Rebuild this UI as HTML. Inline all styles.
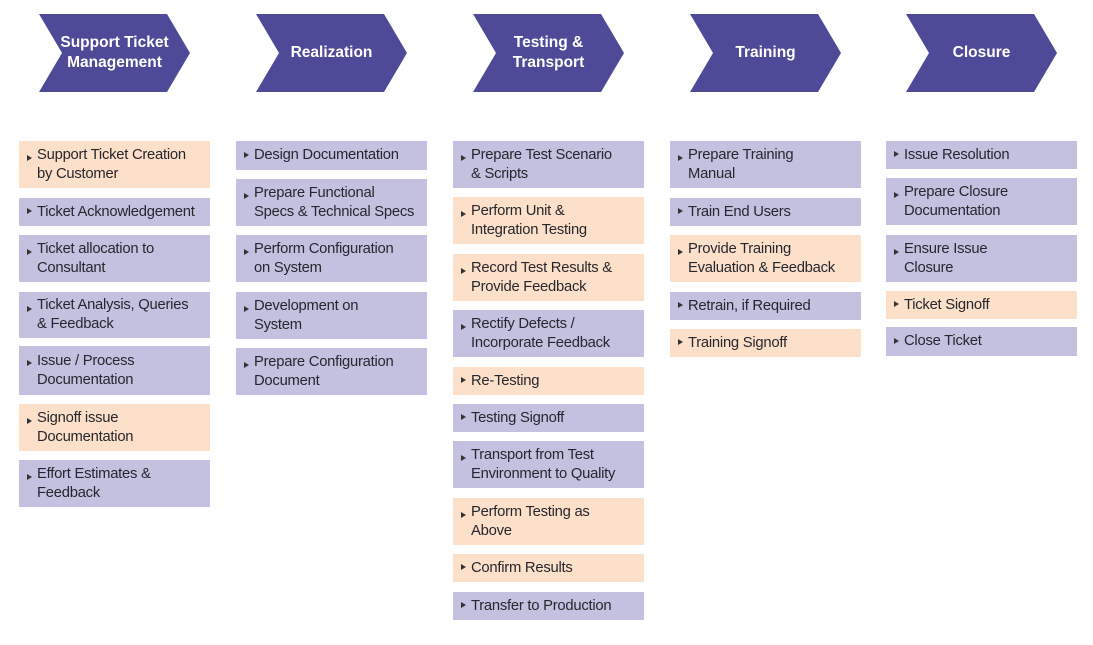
<!DOCTYPE html>
<html><head><meta charset="utf-8"><style>
body{margin:0;width:1093px;height:645px;background:#fff;position:relative;overflow:hidden;font-family:"Liberation Sans",sans-serif}
.b{position:absolute;width:191px;box-sizing:border-box;padding-left:18px;display:flex;align-items:center;color:#26262e;font-size:14.8px;line-height:19px;letter-spacing:-0.25px}
.b:before{content:"";position:absolute;left:8px;top:50%;margin-top:-4px;border-left:5px solid #333;border-top:3.5px solid transparent;border-bottom:3.5px solid transparent}
.b.two:before{top:14px;margin-top:0}
.p{background:#c4c1e0}.o{background:#fde0c9}
.ch{position:absolute;top:14px;width:151px;height:78px}
.ch span{position:absolute;left:10px;width:131px;top:0;height:78px;display:flex;align-items:center;justify-content:center;text-align:center;color:#fff;font-weight:bold;font-size:15.5px;line-height:20px}
</style></head><body>
<svg width="1093" height="100" style="position:absolute;left:0;top:0">
<g fill="#4e4a97">
<polygon points="39,14 167,14 190,53 167,92 39,92 62,53"/>
<polygon points="256,14 384,14 407,53 384,92 256,92 279,53"/>
<polygon points="473,14 601,14 624,53 601,92 473,92 496,53"/>
<polygon points="690,14 818,14 841,53 818,92 690,92 713,53"/>
<polygon points="906,14 1034,14 1057,53 1034,92 906,92 929,53"/>
</g></svg>
<div class="ch" style="left:39px"><span>Support Ticket<br>Management</span></div>
<div class="ch" style="left:256px"><span>Realization</span></div>
<div class="ch" style="left:473px"><span>Testing &amp;<br>Transport</span></div>
<div class="ch" style="left:690px"><span>Training</span></div>
<div class="ch" style="left:906px"><span>Closure</span></div>

<div class="b o two" style="left:19px;top:141px;height:47px">Support Ticket Creation<br>by Customer</div>
<div class="b p" style="left:19px;top:198px;height:28px">Ticket Acknowledgement</div>
<div class="b p two" style="left:19px;top:235px;height:47px">Ticket allocation to<br>Consultant</div>
<div class="b p two" style="left:19px;top:292px;height:46px">Ticket Analysis, Queries<br>&amp; Feedback</div>
<div class="b p two" style="left:19px;top:346px;height:49px">Issue / Process<br>Documentation</div>
<div class="b o two" style="left:19px;top:404px;height:47px">Signoff issue<br>Documentation</div>
<div class="b p two" style="left:19px;top:460px;height:47px">Effort Estimates &amp;<br>Feedback</div>

<div class="b p" style="left:236px;top:141px;height:29px">Design Documentation</div>
<div class="b p two" style="left:236px;top:179px;height:47px">Prepare Functional<br>Specs &amp; Technical Specs</div>
<div class="b p two" style="left:236px;top:235px;height:47px">Perform Configuration<br>on System</div>
<div class="b p two" style="left:236px;top:292px;height:47px">Development on<br>System</div>
<div class="b p two" style="left:236px;top:348px;height:47px">Prepare Configuration<br>Document</div>

<div class="b p two" style="left:453px;top:141px;height:47px">Prepare Test Scenario<br>&amp; Scripts</div>
<div class="b o two" style="left:453px;top:197px;height:47px">Perform Unit &amp;<br>Integration Testing</div>
<div class="b o two" style="left:453px;top:254px;height:47px">Record Test Results &amp;<br>Provide Feedback</div>
<div class="b p two" style="left:453px;top:310px;height:47px">Rectify Defects /<br>Incorporate Feedback</div>
<div class="b o" style="left:453px;top:367px;height:28px">Re-Testing</div>
<div class="b p" style="left:453px;top:404px;height:28px">Testing Signoff</div>
<div class="b p two" style="left:453px;top:441px;height:47px">Transport from Test<br>Environment to Quality</div>
<div class="b o two" style="left:453px;top:498px;height:47px">Perform Testing as<br>Above</div>
<div class="b o" style="left:453px;top:554px;height:28px">Confirm Results</div>
<div class="b p" style="left:453px;top:592px;height:28px">Transfer to Production</div>

<div class="b p two" style="left:670px;top:141px;height:47px">Prepare Training<br>Manual</div>
<div class="b p" style="left:670px;top:198px;height:28px">Train End Users</div>
<div class="b o two" style="left:670px;top:235px;height:47px">Provide Training<br>Evaluation &amp; Feedback</div>
<div class="b p" style="left:670px;top:292px;height:28px">Retrain, if Required</div>
<div class="b o" style="left:670px;top:329px;height:28px">Training Signoff</div>

<div class="b p" style="left:886px;top:141px;height:28px">Issue Resolution</div>
<div class="b p two" style="left:886px;top:178px;height:47px">Prepare Closure<br>Documentation</div>
<div class="b p two" style="left:886px;top:235px;height:47px">Ensure Issue<br>Closure</div>
<div class="b o" style="left:886px;top:291px;height:28px">Ticket Signoff</div>
<div class="b p" style="left:886px;top:327px;height:29px">Close Ticket</div>
</body></html>
